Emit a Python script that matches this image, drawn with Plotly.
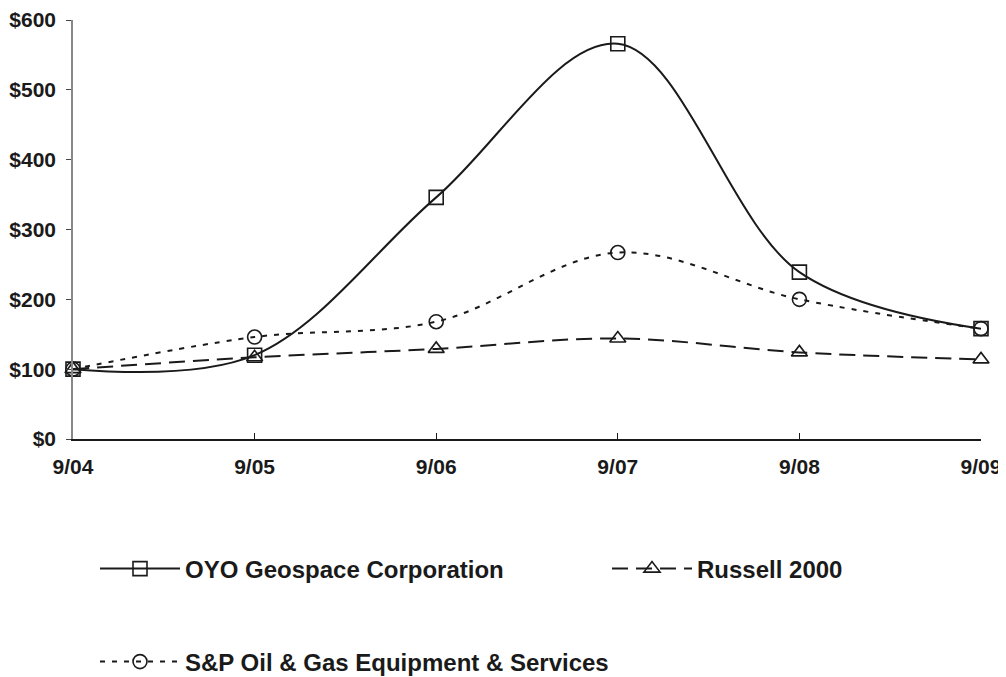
import plotly.graph_objects as go

periods = ["9/04", "9/05", "9/06", "9/07", "9/08", "9/09"]
oyo = [100, 120, 346, 566, 239, 158]
russell = [100, 117, 129, 144, 124, 114]
sp_oil = [100, 146, 168, 267, 200, 158]
y_ticks = [0, 100, 200, 300, 400, 500, 600]
y_labels = ["$" + str(v) for v in y_ticks]

FONT = "Liberation Sans, Arial, sans-serif"
INK = "#1a1a1a"
fig = go.Figure()

def add(name, ys, dash, symbol, size, legend):
    fig.add_trace(go.Scatter(
        x=periods, y=ys, name=name, mode="lines+markers",
        line=dict(color=INK, width=2, dash=dash, shape="spline", smoothing=1.0),
        marker=dict(symbol=symbol, size=size, color=INK,
                    line=dict(color=INK, width=1.6)),
        cliponaxis=False, legend=legend, showlegend=True,
    ))

add("OYO Geospace Corporation", oyo, "solid", "square-open", 14, "legend")
add("Russell 2000", russell, "16px,8px", "triangle-up-open", 14, "legend2")
add("S&P Oil & Gas Equipment & Services", sp_oil, "5px,7px", "circle-open", 14, "legend3")

# the page has an 8px body margin
OFF = 8
FW, FH = 1006, 677
L, T, W, B = 73, 20, 908, 439
H = B - T
def px(xp):
    return (xp - L) / W
def py(yp):
    return (B - yp) / H

leg_common = dict(font=dict(family=FONT, size=24, color=INK, weight="bold"),
                  itemwidth=80, bgcolor="rgba(0,0,0,0)",
                  xanchor="left", yanchor="middle")

fig.update_layout(
    width=FW, height=FH, showlegend=True,
    margin=dict(l=L - OFF, r=FW - (L - OFF) - W, t=T - OFF, b=FH - (T - OFF) - H,
                autoexpand=False),
    plot_bgcolor="white", paper_bgcolor="white",
    font=dict(family=FONT, size=21, color=INK),
    xaxis=dict(type="category", range=[0, 5], showgrid=False, showline=True,
               linecolor=INK, linewidth=1.5, ticks="inside", ticklen=6,
               tickcolor=INK, tickwidth=1.2, tickangle=0, automargin=False,
               ticklabelstandoff=8, ticklabeloverflow="allow",
               tickfont=dict(family=FONT, size=21, weight="bold", color=INK)),
    yaxis=dict(range=[0, 600], tickvals=y_ticks, ticktext=y_labels, showgrid=False,
               showline=True, linecolor="#888888", linewidth=1.5, ticks="outside",
               ticklen=5, tickcolor="#444444", zeroline=False, automargin=False,
               ticklabelstandoff=6, ticklabeloverflow="allow",
               tickfont=dict(family=FONT, size=21, weight="bold", color=INK)),
    legend=dict(x=px(95), y=py(569), **leg_common),
    legend2=dict(x=px(607), y=py(569), **leg_common),
    legend3=dict(x=px(95), y=py(662), **leg_common),
)

fig.write_html("out.html")
